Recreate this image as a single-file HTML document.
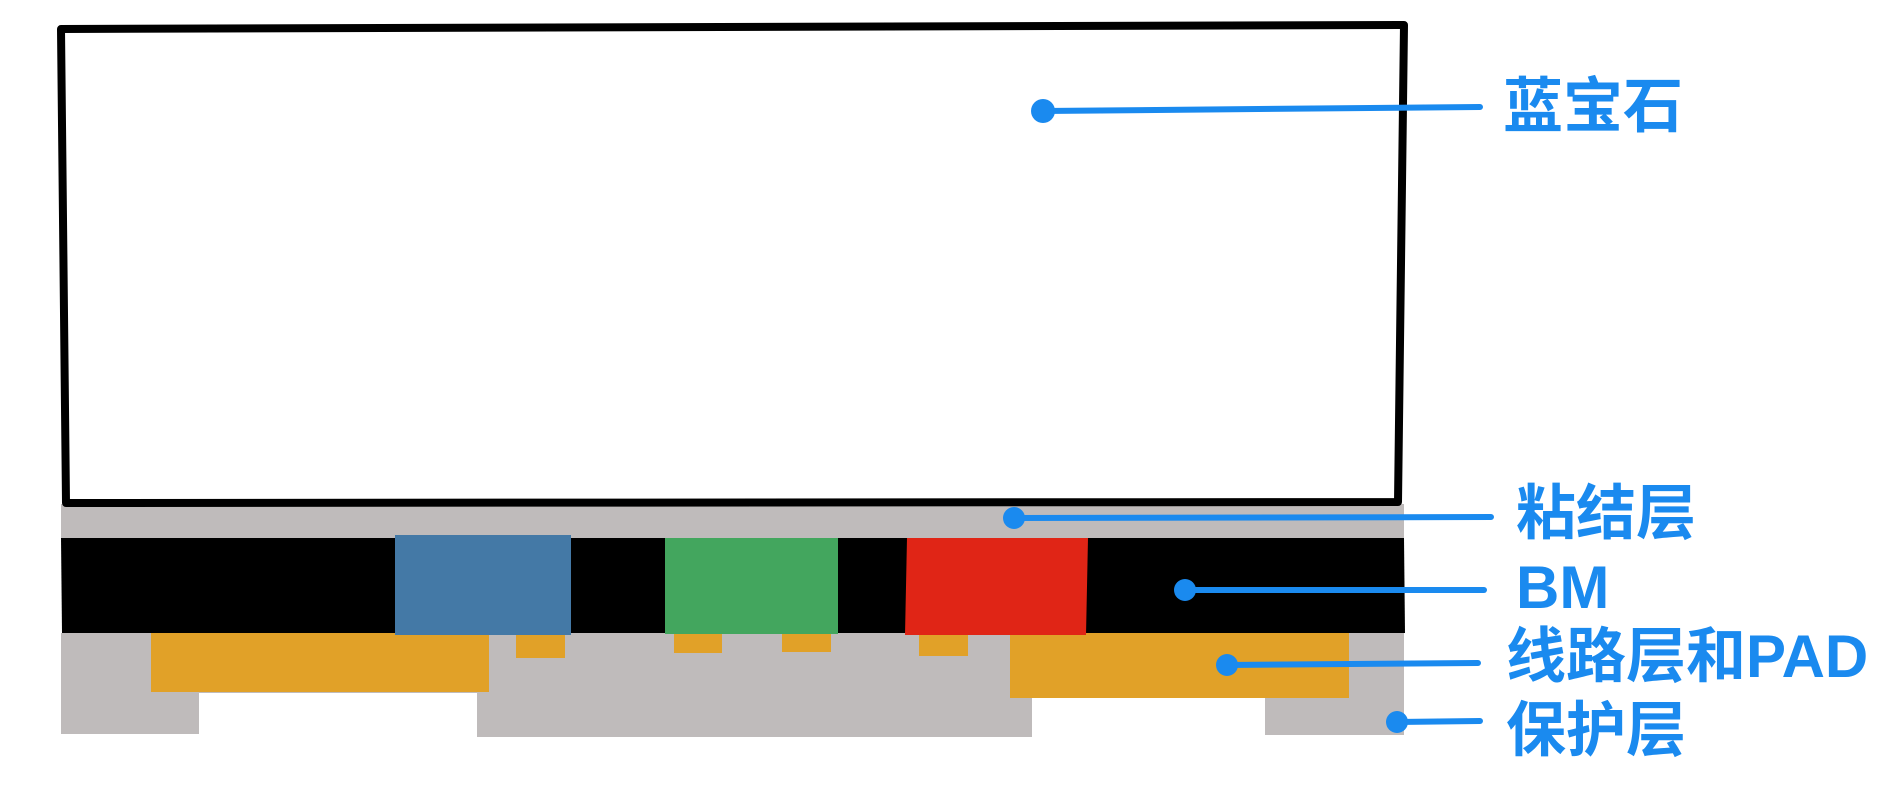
<!DOCTYPE html>
<html><head><meta charset="utf-8"><style>
html,body{margin:0;padding:0;background:#fff;}
svg{display:block;}
text{font-family:"Liberation Sans","Noto Sans CJK SC",sans-serif;font-weight:bold;fill:#1a8aef;font-size:60px;}
</style></head><body>
<svg width="1904" height="806" viewBox="0 0 1904 806" xmlns="http://www.w3.org/2000/svg">
<rect x="0" y="0" width="1904" height="806" fill="#fff"/>
<!-- adhesive -->
<rect x="61" y="504" width="1343" height="35" fill="#bfbbbb"/>
<!-- sapphire box -->
<polygon points="61,29 1404,25 1398,502 66,503" fill="#fff" stroke="#000" stroke-width="8" stroke-linejoin="round"/>
<!-- lower gray -->
<rect x="61" y="633" width="1343" height="60" fill="#bfbbbb"/>
<rect x="61" y="633" width="138" height="101" fill="#bfbbbb"/>
<rect x="477" y="633" width="555" height="104" fill="#bfbbbb"/>
<rect x="1265" y="633" width="139" height="102" fill="#bfbbbb"/>
<!-- orange -->
<rect x="151" y="633" width="338" height="59" fill="#e1a128"/>
<rect x="1010" y="633" width="339" height="65" fill="#e1a128"/>
<rect x="516" y="633" width="49" height="25" fill="#e1a128"/>
<rect x="674" y="633" width="48" height="20" fill="#e1a128"/>
<rect x="782" y="633" width="49" height="19" fill="#e1a128"/>
<rect x="919" y="633" width="49" height="23" fill="#e1a128"/>
<!-- BM -->
<polygon points="61,538 1404,538 1405,633 62,633" fill="#000"/>
<rect x="395" y="535" width="176" height="100" fill="#4479a6"/>
<rect x="665" y="538" width="173" height="96" fill="#43a65e"/>
<polygon points="907,538 1088,538 1086,635 905,635" fill="#e02516"/>
<!-- connectors -->
<g stroke="#1a8aef" stroke-width="6" stroke-linecap="round" fill="none">
<line x1="1043" y1="111" x2="1480" y2="107"/>
<line x1="1014" y1="518" x2="1491" y2="517"/>
<line x1="1185" y1="590" x2="1484" y2="590"/>
<line x1="1227" y1="665" x2="1478" y2="663"/>
<line x1="1397" y1="722" x2="1480" y2="721"/>
</g>
<g fill="#1a8aef">
<circle cx="1043" cy="111" r="12"/>
<circle cx="1014" cy="518" r="11"/>
<circle cx="1185" cy="590" r="11"/>
<circle cx="1227" cy="665" r="11"/>
<circle cx="1397" cy="722" r="11"/>
</g>
<text x="1503" y="127">蓝宝石</text>
<text x="1516" y="534">粘结层</text>
<text x="1516" y="608">BM</text>
<text x="1506" y="677">线路层和PAD</text>
<text x="1506" y="751">保护层</text>
</svg>
</body></html>
